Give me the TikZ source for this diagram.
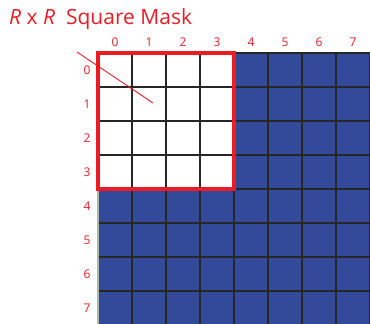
\documentclass[tikz,border=0pt]{standalone}
\usepackage{fontspec}
\setmainfont{Open Sans}
\usetikzlibrary{positioning}

\definecolor{maskred}{RGB}{237,28,36}
\definecolor{gridblue}{RGB}{51,74,155}

\begin{document}
\begin{tikzpicture}[
    x=1pt, y=-1pt,
    cell/.style={fill=gridblue},
    maskcell/.style={fill=white},
    gridline/.style={draw=black!85, line width=1.6pt},
    maskframe/.style={draw=maskred, line width=3.6pt},
    idx/.style={text=maskred, font=\fontsize{12}{14}\selectfont, inner sep=0pt},
    title/.style={text=maskred, font=\fontsize{21}{25}\selectfont, inner sep=0pt, anchor=west}
]
\useasboundingbox (0,0) rectangle (370,324);
\clip (0,0) rectangle (370,324);

% cells
\foreach \r in {0,...,7}{
    \foreach \c in {0,...,7}{
        \fill[cell] (98+34*\c, 53+34*\r) rectangle ++(34,34);
    }
}
\fill[maskcell] (98,53) rectangle (234,189);

% grid
\foreach \c in {1,...,8}{
    \draw[gridline] (98+34*\c, 53) -- (98+34*\c, 330);
}
\foreach \r in {0,...,8}{
    \draw[gridline] (98, 53+34*\r) -- (372, 53+34*\r);
}
\draw[draw=black!30, line width=1.2pt] (98,53) -- (98,330);

% mask frame
\draw[maskframe] (98,53) rectangle (234,189);

% indices
\foreach \i in {0,...,7}{
    \node[idx] (col\i) at (115+34*\i, 42) {\i};
    \node[idx] (row\i) at (87, 70+34*\i) {\i};
}

% title and pointer
\node[title] (ttl) at (9,19) {\textit{R} x \textit{R}\ \ Square Mask};
\coordinate (tip0) at (77,52);
\coordinate (tip1) at (153,103);
\draw[maskred, line width=0.9pt] (tip0) -- (tip1);

\end{tikzpicture}
\end{document}
